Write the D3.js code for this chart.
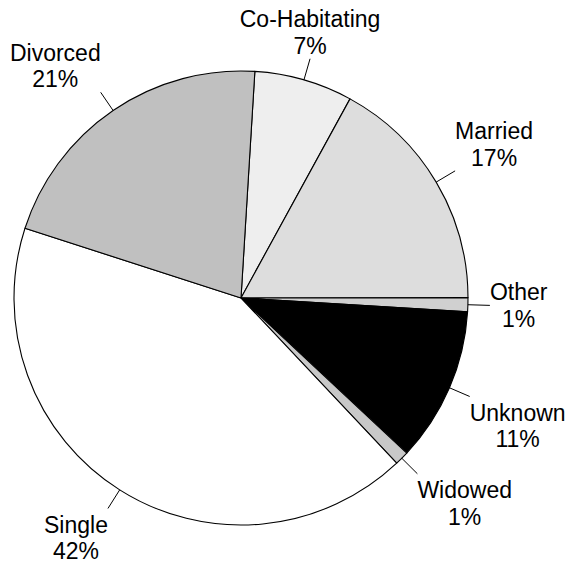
<!DOCTYPE html>
<html>
<head>
<meta charset="utf-8">
<script src="https://cdn.jsdelivr.net/npm/d3@7"></script>
<style>
  html, body { margin: 0; padding: 0; background: #fff; }
  svg { display: block; }
</style>
</head>
<body>
<svg id="chart" width="574" height="563"></svg>
<script>
// Data
const categories = ["Co-Habitating", "Married", "Other", "Unknown", "Widowed", "Single", "Divorced"];
const values = [7, 17, 1, 11, 1, 42, 21];
const labels = ["7%", "17%", "1%", "11%", "1%", "42%", "21%"];
const fills = ["#eeeeee", "#dddddd", "#d0d0d0", "#000000", "#c8c8c8", "#ffffff", "#c0c0c0"];

// Layout
const W = 574, H = 563;
const cx = 241, cy = 298, R = 227;
const leaderR = 249;
const startOffset = 3.5 * Math.PI / 180;
const fontSize = 23;
const lineGap = 26.5;
const capH = fontSize * 0.716;

const svg = d3.select("#chart");
const g = svg.append("g").attr("transform", `translate(${cx},${cy})`);

const data = categories.map((c, i) => ({ name: c, value: values[i], label: labels[i], fill: fills[i] }));

const pie = d3.pie().value(d => d.value).sort(null)
  .startAngle(startOffset).endAngle(startOffset + 2 * Math.PI);
const arcs = pie(data);
const arc = d3.arc().innerRadius(0).outerRadius(R);

g.selectAll("path.slice").data(arcs).join("path")
  .attr("class", "slice")
  .attr("d", arc)
  .attr("fill", d => d.data.fill)
  .attr("stroke", "#000")
  .attr("stroke-width", 1.1)
  .attr("stroke-linejoin", "round");

// Leader lines and labels
arcs.forEach(a => {
  const mid = (a.startAngle + a.endAngle) / 2;
  const s = Math.sin(mid), c = -Math.cos(mid);
  const x0 = R * s, y0 = R * c;
  const x1 = leaderR * s, y1 = leaderR * c;
  g.append("line")
    .attr("x1", x0).attr("y1", y0).attr("x2", x1).attr("y2", y1)
    .attr("stroke", "#000").attr("stroke-width", 1);

  const t = g.append("text")
    .attr("font-family", "'Liberation Sans', Arial, sans-serif")
    .attr("font-size", fontSize)
    .attr("fill", "#000")
    .attr("text-anchor", "middle");
  const t1 = t.append("tspan").text(a.data.name);
  const t2 = t.append("tspan").text(a.data.label);
  const w = Math.max(t1.node().getComputedTextLength(), t2.node().getComputedTextLength());

  let tx;
  if (Math.abs(s) < 0.4) tx = x1;
  else if (s > 0) tx = x1 + w / 2;
  else tx = x1 - w / 2;

  let capTop;
  if (Math.abs(c) < 0.2) capTop = y1 - (capH + lineGap) / 2;
  else if (c > 0) capTop = y1 + 8;
  else capTop = y1 - 5 - lineGap - capH;

  const b1 = capTop + capH;
  t1.attr("x", tx).attr("y", b1);
  t2.attr("x", tx).attr("y", b1 + lineGap);
});
</script>
</body>
</html>
